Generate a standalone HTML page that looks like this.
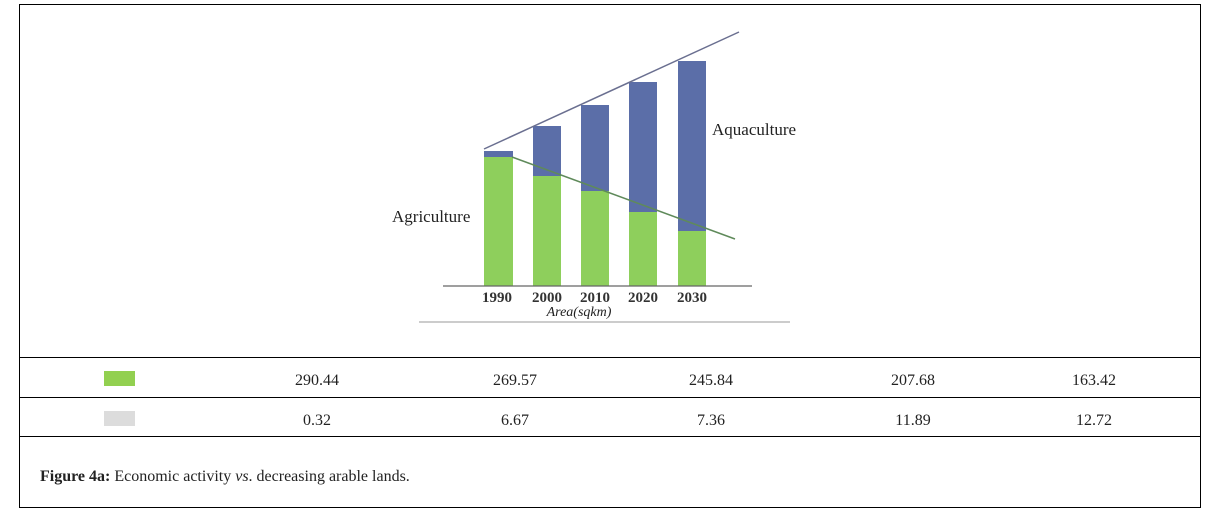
<!DOCTYPE html>
<html><head><meta charset="utf-8"><style>
body{margin:0;background:#fff;width:1217px;height:524px;overflow:hidden;}
svg{display:block}
</style></head><body>
<svg width="1217" height="524" viewBox="0 0 1217 524" xmlns="http://www.w3.org/2000/svg">
<rect x="19.5" y="4.5" width="1181" height="503" fill="#fff" stroke="#000" stroke-width="1"/>
<line x1="19" y1="357.5" x2="1201" y2="357.5" stroke="#000"/>
<line x1="19" y1="397.5" x2="1201" y2="397.5" stroke="#000"/>
<line x1="19" y1="436.5" x2="1201" y2="436.5" stroke="#000"/>
<g>
<rect x="484" y="151" width="29" height="6" fill="#5b6ea8"/><rect x="484" y="157" width="29" height="129" fill="#8ecf5c"/>
<rect x="533" y="126" width="28" height="50" fill="#5b6ea8"/><rect x="533" y="176" width="28" height="110" fill="#8ecf5c"/>
<rect x="581" y="105" width="28" height="86" fill="#5b6ea8"/><rect x="581" y="191" width="28" height="95" fill="#8ecf5c"/>
<rect x="629" y="82" width="28" height="130" fill="#5b6ea8"/><rect x="629" y="212" width="28" height="74" fill="#8ecf5c"/>
<rect x="678" y="61" width="28" height="170" fill="#5b6ea8"/><rect x="678" y="231" width="28" height="55" fill="#8ecf5c"/>
</g>
<line x1="484" y1="149" x2="739" y2="32" stroke="#6a6f90" stroke-width="1.5"/>
<line x1="512" y1="157" x2="735" y2="239" stroke="#5f8a5a" stroke-width="1.5"/>
<line x1="443" y1="286" x2="752" y2="286" stroke="#666" stroke-width="1.2"/>
<line x1="419" y1="322" x2="790" y2="322" stroke="#999" stroke-width="1"/>
<g font-family="Liberation Serif, serif" font-size="15" fill="#222">
<text x="497" y="302" text-anchor="middle" font-weight="bold" fill="#333">1990</text>
<text x="547" y="302" text-anchor="middle" font-weight="bold" fill="#333">2000</text>
<text x="595" y="302" text-anchor="middle" font-weight="bold" fill="#333">2010</text>
<text x="643" y="302" text-anchor="middle" font-weight="bold" fill="#333">2020</text>
<text x="692" y="302" text-anchor="middle" font-weight="bold" fill="#333">2030</text>
<text x="579" y="316" text-anchor="middle" font-style="italic" font-size="14">Area(sqkm)</text>
<text x="392" y="222" font-size="17">Agriculture</text>
<text x="712" y="135" font-size="17">Aquaculture</text>
</g>
<rect x="104" y="371" width="31" height="15" fill="#92d050"/>
<rect x="104" y="411" width="31" height="15" fill="#dcdcdc"/>
<g font-family="Liberation Serif, serif" font-size="16" fill="#222" text-anchor="middle">
<text x="317" y="385">290.44</text><text x="515" y="385">269.57</text><text x="711" y="385">245.84</text><text x="913" y="385">207.68</text><text x="1094" y="385">163.42</text>
<text x="317" y="425">0.32</text><text x="515" y="425">6.67</text><text x="711" y="425">7.36</text><text x="913" y="425">11.89</text><text x="1094" y="425">12.72</text>
</g>
<text x="40" y="481" font-family="Liberation Serif, serif" font-size="16" fill="#222"><tspan font-weight="bold">Figure 4a:</tspan> Economic activity <tspan font-style="italic">vs</tspan>. decreasing arable lands.</text>
</svg>
</body></html>
